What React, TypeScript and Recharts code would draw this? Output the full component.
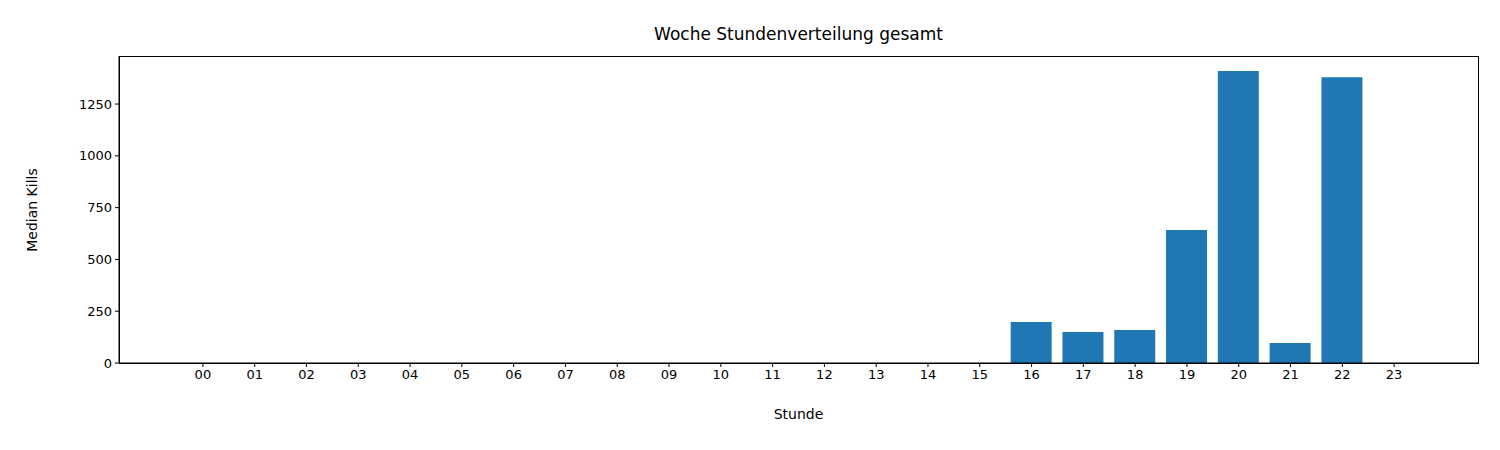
import React from 'react';
import { BarChart, Bar, XAxis, YAxis } from 'recharts';

const hours = ['00','01','02','03','04','05','06','07','08','09','10','11','12','13','14','15','16','17','18','19','20','21','22','23'];
const kills = [0,0,0,0,0,0,0,0,0,0,0,0,0,0,0,0,198,150,159,642,1409,97,1380,0];
const yTicks = [0, 250, 500, 750, 1000, 1250];

const data = hours.map((h, i) => ({ label: h, kills: kills[i] }));
const font = 'DejaVu Sans, sans-serif';
const tickStyle = { fill: '#000', fontSize: 13, fontFamily: font };

export default function App() {
  return (
    <div style={{ position: 'absolute', left: 0, top: 0, width: 1500, height: 450, background: '#fff', fontFamily: font }}>
      <div style={{ position: 'absolute', top: 24, left: 119, width: 1359, textAlign: 'center', fontSize: 17 }}>
        Woche Stundenverteilung gesamt
      </div>
      <div style={{ position: 'absolute', top: 406, left: 119, width: 1359, textAlign: 'center', fontSize: 14 }}>
        Stunde
      </div>
      <div style={{ position: 'absolute', left: 32, top: 210, transform: 'translate(-50%, -50%) rotate(-90deg)', fontSize: 14, whiteSpace: 'nowrap' }}>
        Median Kills
      </div>
      <BarChart width={1500} height={450} data={data} margin={{ top: 56, right: 22, bottom: 0, left: 0 }}>
        <XAxis dataKey="label" height={87} stroke="#000" tick={tickStyle} tickSize={4} tickMargin={3} interval={0}
          padding={{ left: 58, right: 58 }} />
        <YAxis domain={[0, 1482]} ticks={yTicks} width={119} stroke="#000" tick={tickStyle} tickSize={4} tickMargin={3} />
        <Bar dataKey="kills" fill="#1f77b4" barSize={41} isAnimationActive={false} />
      </BarChart>
      <div style={{ position: 'absolute', left: 119, top: 56, width: 1358, height: 306, border: '1px solid #000', pointerEvents: 'none' }} />
    </div>
  );
}
